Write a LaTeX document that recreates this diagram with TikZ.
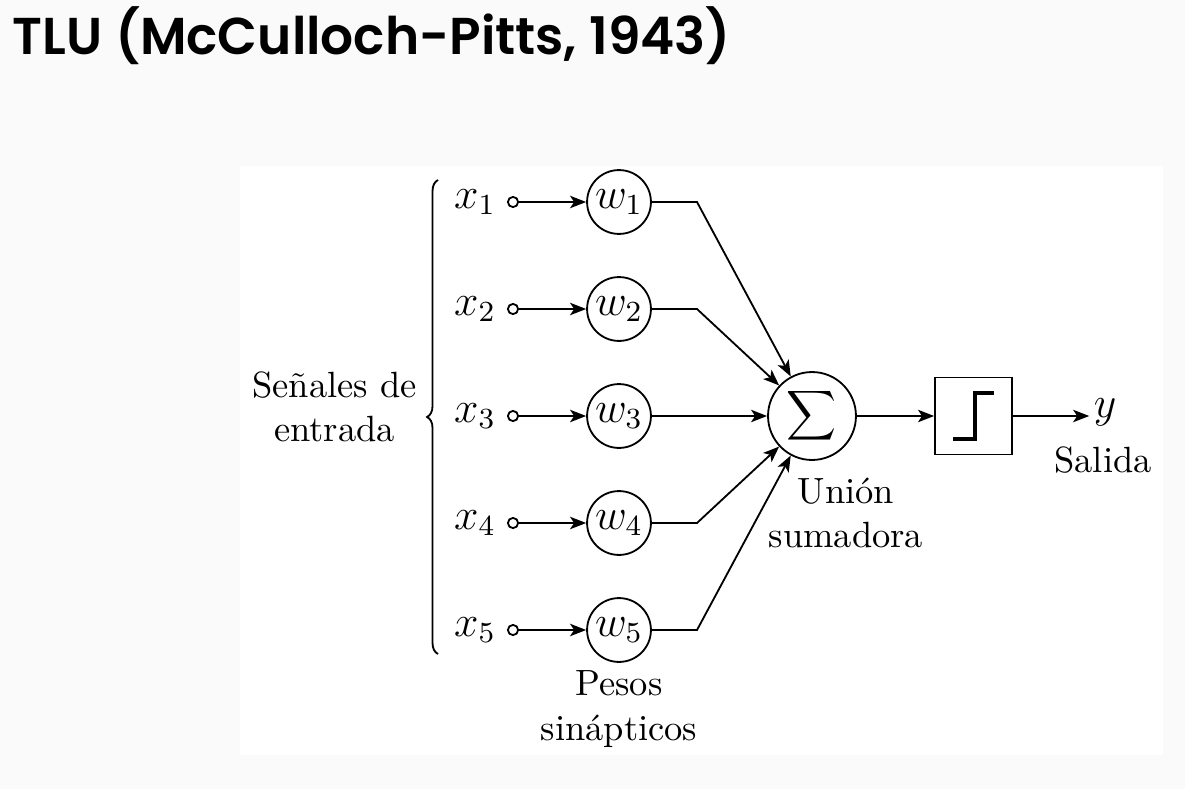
\documentclass[tikz,border=0pt]{standalone}
\usepackage{fontspec}
\usepackage{amsmath}
\usepackage{graphicx}
\newfontfamily\poppins{Poppins SemiBold}
\usetikzlibrary{arrows.meta,decorations.pathreplacing}
\definecolor{bgcol}{RGB}{250,250,250}
\begin{document}
\begin{tikzpicture}[x=0.274pt,y=-0.274pt,
  line width=0.5pt,
  wnode/.style={circle,draw,minimum size=17.5pt,inner sep=0pt,font=\fontsize{12}{14}\selectfont},
  xlab/.style={font=\fontsize{12}{14}\selectfont},
  innode/.style={circle,draw,fill=white,minimum size=2.8pt,inner sep=0pt},
  arr/.style={-{Stealth[length=4.4pt,width=3.4pt,inset=1.1pt]}},
  lbl/.style={align=center,font=\fontsize{10}{12.2}\selectfont,inner sep=0pt}
]
\fill[bgcol] (0,0) rectangle (1185,789);
\fill[white] (240,166) rectangle (1163,755);
\useasboundingbox (0,0) rectangle (1185,789);
\node[anchor=base west,inner sep=0pt,font=\poppins\fontsize{14.2}{16}\selectfont] (title) at (12,54) {TLU (McCulloch-Pitts, 1943)};

\node[circle,draw,minimum size=24.1pt,inner sep=0pt] (sum) at (812,416) {\scalebox{0.95}{$\displaystyle\sum$}};

\foreach \i/\yy in {1/202,2/309,3/416,4/523,5/630}{
  \node[xlab] (x\i) at (475,\yy) {$x_{\i}$};
  \node[innode] (c\i) at (513,\yy) {};
  \node[wnode] (w\i) at (619,\yy) {$w_{\i}$};
  \coordinate (k\i) at (697,\yy);
  \draw[arr] (c\i) -- (w\i);
  \draw[arr] (w\i) -- (k\i) -- (sum);
}

\node[draw,minimum size=21.1pt,inner sep=0pt] (step) at (973.5,416) {};
\draw[line width=1.2pt] ([shift={(-20.5,23)}]step.center) -- ++(22,0) -- ++(0,-46) -- ++(19,0);
\draw[arr] (sum) -- (step);
\node[xlab,inner sep=1pt] (y) at (1105,412) {$y$};
\draw[arr] (step.east) -- (step.east -| y.west);

\draw[decorate,decoration={brace,amplitude=3pt}] (438,654) -- (438,180);

\node[lbl] (entrada) at (334.5,406.6) {Señales de\\entrada};
\node[lbl] (union) at (846,513) {Unión\\sumadora};
\node[lbl] (pesos) at (619,709) {Pesos\\sinápticos};
\node[lbl] (salida) at (1103,460) {Salida};
\end{tikzpicture}
\end{document}
